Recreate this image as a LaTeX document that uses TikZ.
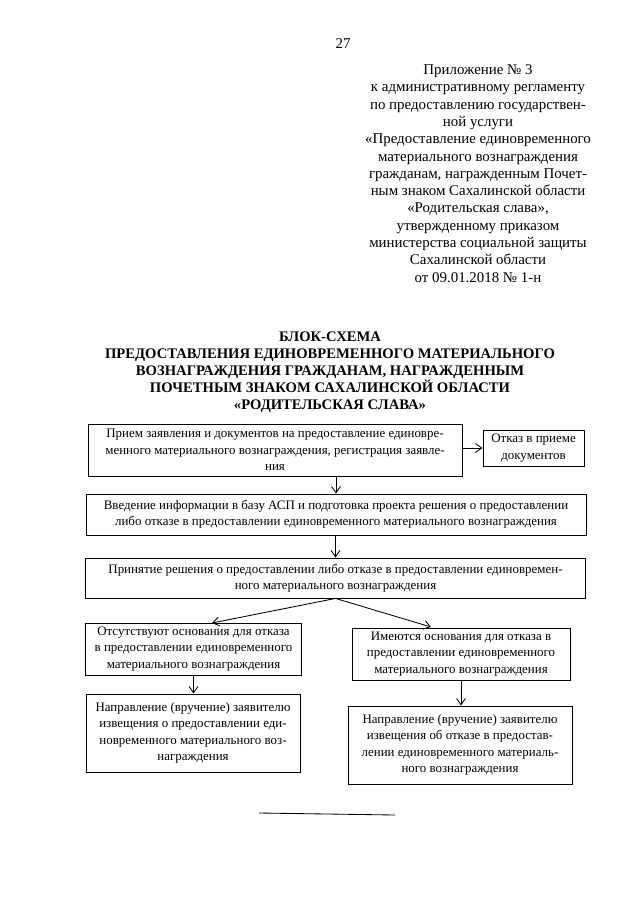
\documentclass[tikz,border=0pt]{standalone}
\usepackage{fontspec}
\setmainfont{Liberation Serif}
\usepackage{tikz}
\usetikzlibrary{arrows.meta,positioning,calc}

\begin{document}
\begin{tikzpicture}[
  x=0.025cm, y=-0.025cm,
  blk/.style={draw, line width=0.6pt, inner sep=1pt, align=center,
    font=\fontsize{9.2}{11.6}\selectfont},
  hdr/.style={align=center, font=\fontsize{10.6}{12.3}\selectfont},
  ttl/.style={align=center, font=\bfseries\fontsize{10.4}{12.1}\selectfont},
  arr/.style={-{Straight Barb[length=1.6mm,width=2.2mm]}, line width=0.6pt}
]
  \useasboundingbox (0,0) rectangle (640,905);
  \node[hdr] (pagenum) at (343,44) {27};
  \node[hdr] (annex) at (478,173.5)
    {Приложение № 3\\
     к административному регламенту\\
     по предоставлению государствен-\\
     ной услуги\\
     «Предоставление единовременного\\
     материального вознаграждения\\
     гражданам, награжденным Почет-\\
     ным знаком Сахалинской области\\
     «Родительская слава»,\\
     утвержденному приказом\\
     министерства социальной защиты\\
     Сахалинской области\\
     от 09.01.2018 № 1-н};
  \node[ttl] (title) at (330,372)
    {БЛОК-СХЕМА\\
     ПРЕДОСТАВЛЕНИЯ ЕДИНОВРЕМЕННОГО МАТЕРИАЛЬНОГО\\
     ВОЗНАГРАЖДЕНИЯ ГРАЖДАНАМ, НАГРАЖДЕННЫМ\\
     ПОЧЕТНЫМ ЗНАКОМ САХАЛИНСКОЙ ОБЛАСТИ\\
     «РОДИТЕЛЬСКАЯ СЛАВА»};
  % steps of the scheme
  \node[blk, minimum width=9.35cm, minimum height=1.3cm] (intake) at (275,450)
    {Прием заявления и документов на предоставление единовре-\\
     менного материального вознаграждения, регистрация заявле-\\
     ния};
  \node[blk, minimum width=2.525cm, minimum height=0.9cm] (refuse) at (533.5,448)
    {Отказ в приеме\\документов};
  \node[blk, minimum width=12.5cm, minimum height=1.025cm] (entry) at (336,514.5)
    {Введение информации в базу АСП и подготовка проекта решения о предоставлении\\
     либо отказе в предоставлении единовременного материального вознаграждения};
  \node[blk, minimum width=12.5cm, minimum height=1cm] (decide) at (335.5,578)
    {Принятие решения о предоставлении либо отказе в предоставлении единовремен-\\
     ного материального вознаграждения};
  \node[blk, minimum width=5.4cm, minimum height=1.3cm] (nogrounds) at (193.5,649)
    {Отсутствуют основания для отказа\\
     в предоставлении единовременного\\
     материального вознаграждения};
  \node[blk, minimum width=5.45cm, minimum height=1.3cm] (grounds) at (461,654)
    {Имеются основания для отказа в\\
     предоставлении единовременного\\
     материального вознаграждения};
  \node[blk, minimum width=5.35cm, minimum height=1.95cm] (grant) at (193,733)
    {Направление (вручение) заявителю\\
     извещения о предоставлении еди-\\
     новременного материального воз-\\
     награждения};
  \node[blk, minimum width=5.6cm, minimum height=1.95cm] (deny) at (460,745)
    {Направление (вручение) заявителю\\
     извещения об отказе в предостав-\\
     лении единовременного материаль-\\
     ного вознаграждения};
  \coordinate (lefttip) at (212,623);
  \coordinate (righttip) at (431,627);
  % connectors
  \draw[arr] (intake.east |- refuse.west) -- (refuse.west);
  \draw[arr] (intake.south -| entry.north) -- (entry.north);
  \draw[arr] (entry.south -| decide.north) -- (decide.north);
  \draw[arr] (decide.south) -- (lefttip);
  \draw[arr] (decide.south) -- (righttip);
  \draw[arr] (nogrounds.south) -- (nogrounds.south |- grant.north);
  \draw[arr] (grounds.south) -- (grounds.south |- deny.north);
  \draw[line width=0.6pt] (259,813) -- (395,815);
\end{tikzpicture}
\end{document}
